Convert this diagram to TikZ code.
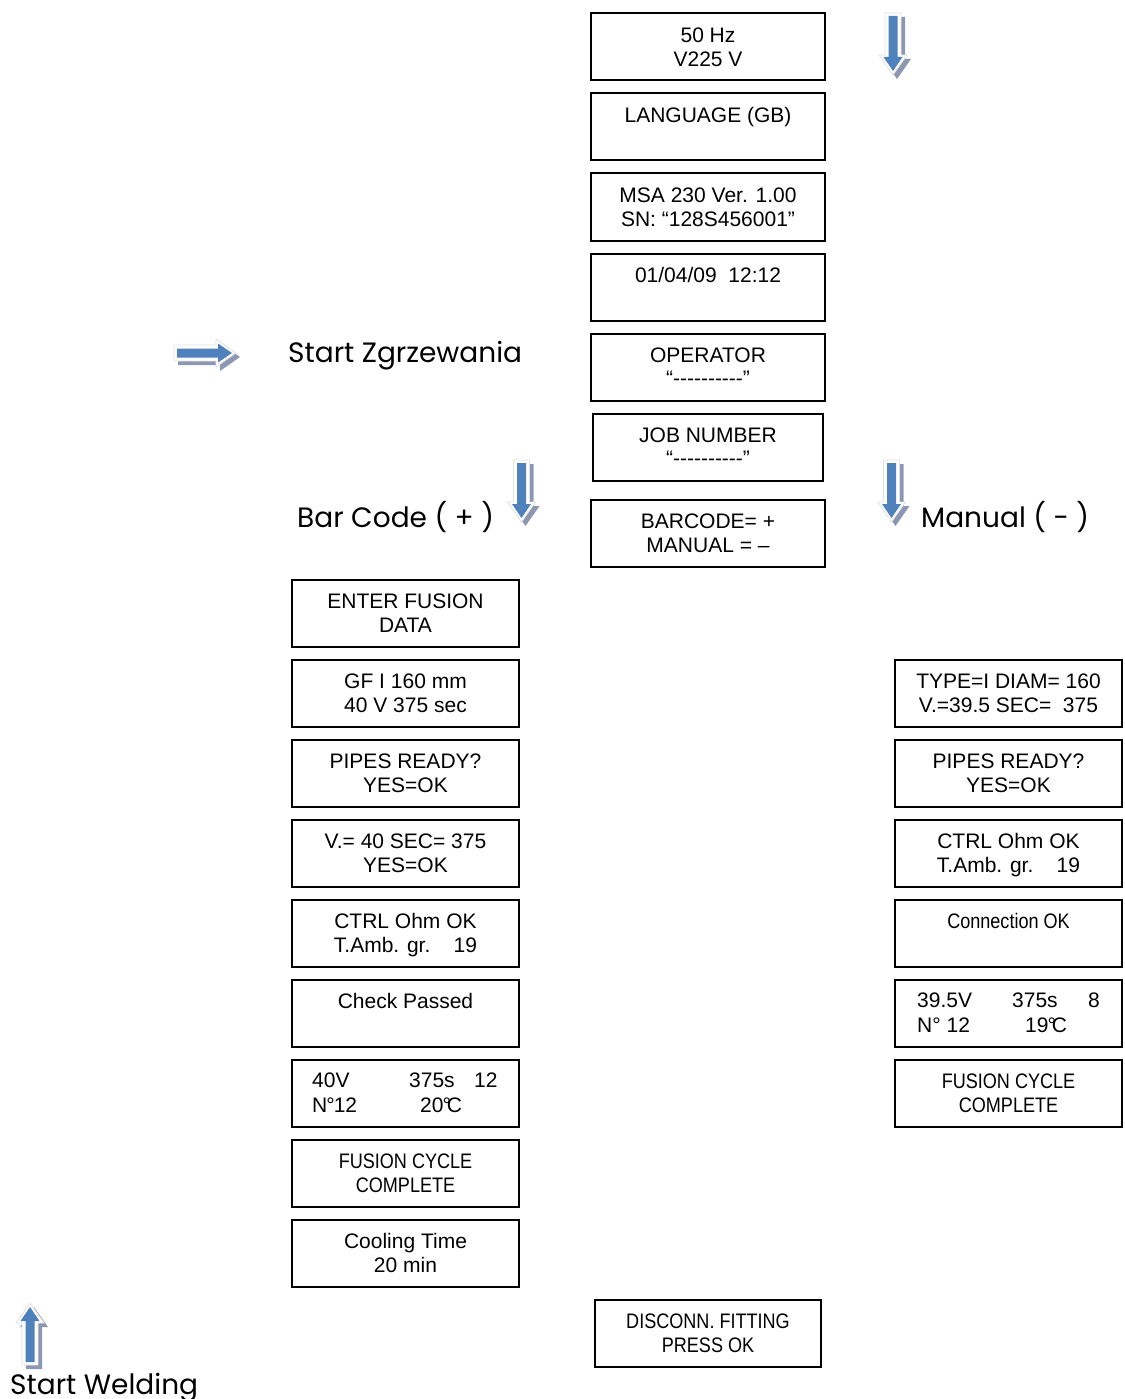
\documentclass[tikz,border=0pt]{standalone}
\usepackage{fontspec}
\setmainfont{Liberation Sans}
\newfontfamily\condf[FakeStretch=0.86]{Liberation Sans}
\newfontfamily\gothf{Poppins}
\definecolor{arrblue}{RGB}{79,129,189}
\definecolor{arrshadow}{RGB}{140,152,178}
\definecolor{arredge}{RGB}{225,225,228}
\tikzset{
  scr/.style={draw=black, line width=2pt, fill=white, minimum height=67pt, inner sep=0pt},
  txt/.style={font=\fontsize{21}{24}\selectfont, align=center, inner sep=0pt},
  ltxt/.style={font=\fontsize{21}{24}\selectfont, inner sep=0pt, anchor=base west},
  big/.style={font=\gothf\fontsize{28}{32}\selectfont, inner sep=0pt, anchor=base west},
}
\newcommand\dashline{“-{}-{}-{}-{}-{}-{}-{}-{}-{}-”}
\newcommand\screenbox[5]{%
  \node[scr, minimum width=#4pt] (#1) at (#2,#3+34) {};
  \node[txt, anchor=north] (#1t) at ([yshift=-15pt]#1.north) {#5};}
\newcommand\blockarrow[1]{%
  \begin{scope}[shift={(4,4)}, #1]
    \fill[arrshadow] (-8,0) -- (8,0) -- (8,42) -- (14,42) -- (0,62) -- (-14,42) -- (-8,42) -- cycle;
  \end{scope}
  \begin{scope}[#1]
    \filldraw[fill=white, draw=arredge, line width=0.8pt] (-8,0) -- (8,0) -- (8,42) -- (14,42) -- (0,62) -- (-14,42) -- (-8,42) -- cycle;
    \fill[arrblue] (-4.5,3) -- (4.5,3) -- (4.5,44) -- (9.5,44) -- (0,58) -- (-9.5,44) -- (-4.5,44) -- cycle;
  \end{scope}}
\begin{document}
\begin{tikzpicture}[x=1pt, y=-1pt]
\useasboundingbox (0,0) rectangle (1124,1399);
% centre column
\screenbox{c1}{708}{13}{234}{50 Hz\\V225 V}
\screenbox{c2}{708}{93}{234}{LANGUAGE (GB)}
\screenbox{c3}{708}{173}{234}{MSA 230 Ver. 1.00\\SN: “128S456001”}
\screenbox{c4}{708}{253}{234}{01/04/09\ \ 12:12}
\screenbox{c5}{708}{333}{234}{OPERATOR\\[-1pt]\dashline}
\screenbox{c6}{708}{413}{230}{JOB NUMBER\\[-1pt]\dashline}
\screenbox{c7}{708}{499}{234}{BARCODE= +\\MANUAL = –}
% left column
\screenbox{l1}{405.5}{579}{227}{ENTER FUSION\\DATA}
\screenbox{l2}{405.5}{659}{227}{GF I 160 mm\\40 V 375 sec}
\screenbox{l3}{405.5}{739}{227}{PIPES READY?\\YES=OK}
\screenbox{l4}{405.5}{819}{227}{V.= 40 SEC= 375\\YES=OK}
\screenbox{l5}{405.5}{899}{227}{CTRL Ohm OK\\T.Amb. gr.\ \ \ \ 19}
\screenbox{l6}{405.5}{979}{227}{Check Passed}
\screenbox{l7}{405.5}{1059}{227}{}
\node[ltxt] (l7a) at (312,1087) {40V};
\node[ltxt] (l7b) at (409,1087) {375s};
\node[ltxt] (l7c) at (474,1087) {12};
\node[ltxt] (l7d) at (312,1112) {N\kern-1pt°\kern-1pt12};
\node[ltxt] (l7e) at (420,1112) {20\kern-1pt°\kern-4pt C};
\screenbox{l8}{405.5}{1139}{227}{\condf FUSION CYCLE\\\condf COMPLETE}
\screenbox{l9}{405.5}{1219}{227}{Cooling Time\\20 min}
% right column
\screenbox{r1}{1008.5}{659}{227}{TYPE=I DIAM= 160\\V.=39.5 SEC=\ \ 375}
\screenbox{r2}{1008.5}{739}{227}{PIPES READY?\\YES=OK}
\screenbox{r3}{1008.5}{819}{227}{CTRL Ohm OK\\T.Amb. gr.\ \ \ \ 19}
\screenbox{r4}{1008.5}{899}{227}{\condf Connection OK}
\screenbox{r5}{1008.5}{979}{227}{}
\node[ltxt] (r5a) at (917,1007) {39.5V};
\node[ltxt] (r5b) at (1012,1007) {375s};
\node[ltxt] (r5c) at (1088,1007) {8};
\node[ltxt] (r5d) at (917,1032) {N°\ 12};
\node[ltxt] (r5e) at (1025,1032) {19\kern-1pt°\kern-4pt C};
\screenbox{r6}{1008.5}{1059}{227}{\condf FUSION CYCLE\\\condf COMPLETE}
% bottom
\screenbox{b1}{708}{1299}{226}{\condf DISCONN. FITTING\\\condf PRESS OK}
% big labels
\node[big] (sz) at (288,362) {Start Zgrzewania};
\node[big] (bc) at (297,527) {Bar Code ( + )};
\node[big] (mn) at (921,527) {Manual ( - )};
\node[big] (sw) at (10,1394) {Start Welding};
% block arrows
\blockarrow{shift={(893,13)}}
\blockarrow{shift={(521.5,460)}}
\blockarrow{shift={(891.5,460)}}
\blockarrow{shift={(174,353)}, rotate=90}
\blockarrow{shift={(30,1365)}, yscale=-1}
\end{tikzpicture}
\end{document}
